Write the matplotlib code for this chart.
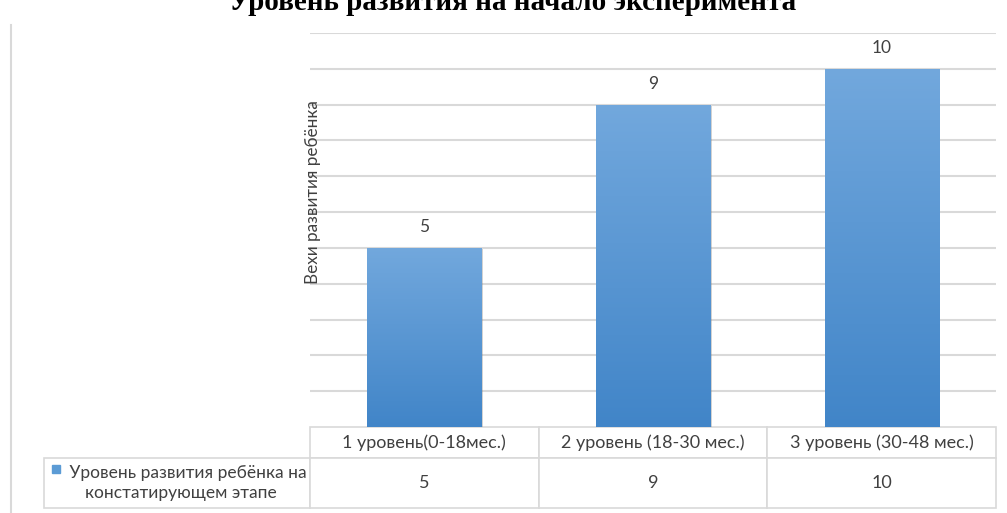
import numpy as np
import matplotlib.pyplot as plt
from matplotlib.colors import LinearSegmentedColormap
from matplotlib import patheffects as pe
from matplotlib.lines import Line2D

# данные диаграммы
уровни = ['1 уровень(0-18мес.)', '2 уровень (18-30 мес.)', '3 уровень (30-48 мес.)']
значения = [5, 9, 10]
серия = 'Уровень развития ребёнка на\nконстатирующем этапе'
заголовок = 'Уровень развития на начало эксперимента'
подпись_y = 'Вехи развития ребёнка'

plt.rcParams['font.family'] = ['Lato', 'DejaVu Sans']
серый = '#404040'
линии = '#d9d9d9'
низ = '#4185c8'
верх = '#72a8dd'

fig = plt.figure(figsize=(10.07, 5.13), dpi=100)
ax = fig.add_axes([310 / 1007, 1 - 427 / 513, 686 / 1007, 394 / 513])

x = np.arange(len(значения))
бары = ax.bar(x, значения, width=0.5, color=низ, zorder=2)

# градиент внутри каждого столбца
градиент = LinearSegmentedColormap.from_list('g', [низ, верх])
for б in бары:
    б.set_path_effects([pe.SimplePatchShadow(offset=(1, -1), shadow_rgbFace='gray', alpha=0.35), pe.Normal()])
    x0, y0 = б.get_x(), б.get_y()
    img = ax.imshow(np.linspace(0, 1, 256).reshape(-1, 1), cmap=градиент, origin='lower',
                    extent=(x0, x0 + б.get_width(), y0, y0 + б.get_height()),
                    aspect='auto', zorder=3)
    img.set_clip_path(б)

for xi, v in zip(x, значения):
    ax.annotate(str(v), (xi, v), xytext=(0, 9), textcoords='offset points',
                ha='center', va='bottom', fontsize=12.5, color=серый)

ax.set_xlim(-0.5, 2.5)
ax.set_ylim(0, 11)
ax.set_yticks(range(1, 12))
ax.grid(axis='y', color=линии, linewidth=1.5, zorder=0)
ax.tick_params(left=False, bottom=False, labelleft=False, labelbottom=False)
for s in ax.spines.values():
    s.set_visible(False)

ax.set_ylabel(подпись_y, fontsize=12.3, color=серый)
ax.yaxis.set_label_coords(0.016, 0.596)

# таблица данных под осью: первый столбец — подпись серии
ширина_метки = 266 / 686
таблица = ax.table(cellText=[[''] + уровни, [''] + [str(v) for v in значения]],
                   cellLoc='center',
                   colWidths=[ширина_метки] + [1 / 3] * 3,
                   bbox=[-ширина_метки, -81 / 394, 1 + ширина_метки, 81 / 394])
таблица.auto_set_font_size(False)
for (r, c), cell in таблица.get_celld().items():
    cell.set_edgecolor(линии)
    cell.set_linewidth(1.2)
    cell.set_height(31 if r == 0 else 50)
    cell.get_text().set_fontsize(13)
    cell.get_text().set_color(серый)
таблица[(0, 0)].visible_edges = ''

# подпись серии с маркером легенды
ax.text(-ширина_метки / 2 + 4 / 686, -56 / 394, '   ' + серия, transform=ax.transAxes,
        ha='center', va='center', fontsize=12.5, color=серый, linespacing=1.3)
ax.plot([(56 - 310) / 686], [-42 / 394], marker='s', markersize=5.5,
        color='#5b9bd5', transform=ax.transAxes, clip_on=False)

fig.text(0.509, 1 - 10 / 513, заголовок, ha='center', va='baseline',
         fontsize=21, fontweight='bold', family='Liberation Serif', color='black')
fig.add_artist(Line2D([10.5 / 1007, 10.5 / 1007], [1 - 25 / 513, 0], color=линии, linewidth=1.5))

fig.savefig('out.png', dpi=100)
